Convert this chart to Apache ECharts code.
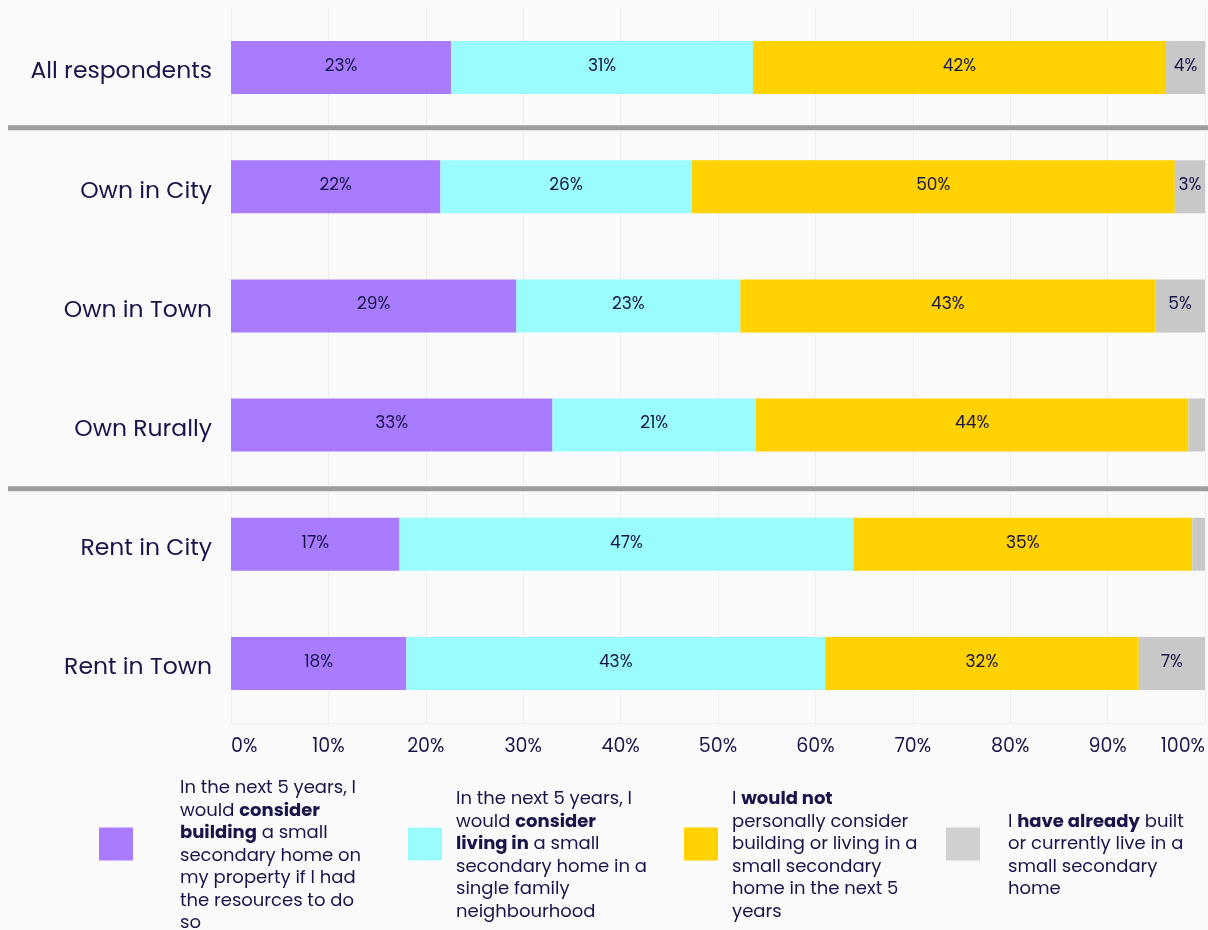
<!DOCTYPE html>
<html>
<head>
<meta charset="utf-8">
<style>
  html, body { margin: 0; padding: 0; background: #fafafa; }
  #chart { width: 1208px; height: 930px; }
</style>
<script src="https://cdn.jsdelivr.net/npm/echarts@6/dist/echarts.min.js"></script>
</head>
<body>
<div id="chart"></div>
<script>
// Respondent groups, top to bottom
const categories = ['All respondents', 'Own in City', 'Own in Town', 'Own Rurally', 'Rent in City', 'Rent in Town'];

// Share of each group (%) per answer
const considerBuilding = [22.6, 21.5, 29.3, 33.0, 17.3, 18.0];
const considerLiving   = [31.0, 25.8, 23.0, 20.9, 46.6, 43.0];
const wouldNot         = [42.4, 49.6, 42.6, 44.4, 34.8, 32.2];
const alreadyHave      = [4.0, 3.1, 5.1, 1.7, 1.3, 6.8];

const xTicks = [0, 10, 20, 30, 40, 50, 60, 70, 80, 90, 100];

const seriesNames = ['considerBuilding', 'considerLiving', 'wouldNot', 'alreadyHave'];
const legendTexts = {
  considerBuilding: 'In the next 5 years, I\nwould {b|consider}\n{b|building} a small\nsecondary home on\nmy property if I had\nthe resources to do\nso',
  considerLiving: 'In the next 5 years, I\nwould {b|consider}\n{b|living in} a small\nsecondary home in a\nsingle family\nneighbourhood',
  wouldNot: 'I {b|would not}\npersonally consider\nbuilding or living in a\nsmall secondary\nhome in the next 5\nyears',
  alreadyHave: 'I {b|have already} built\nor currently live in a\nsmall secondary\nhome'
};

const colors = ['#a97bff', '#9bfcfd', '#ffd200', '#c8c8c8'];
const legendColors = ['#a97bff', '#9bfcfd', '#ffd200', '#d0d0d0'];
const legendLeft = [99, 408, 684, 946];
const legendTextLeft = [180, 456, 732, 1008];

const FONT = "Poppins, 'Open Sans', 'Noto Sans', sans-serif";
const INK = '#17154a';
const LINE_H = 22.5;
const ICON_W = 34, ICON_H = 33, ICON_CENTER = 844;

const chart = echarts.init(document.getElementById('chart'));

const values = [considerBuilding, considerLiving, wouldNot, alreadyHave];

const series = seriesNames.map((name, i) => ({
  name: name,
  type: 'bar',
  stack: 'total',
  barWidth: 53,
  itemStyle: { color: colors[i] },
  emphasis: { disabled: true },
  label: {
    show: true,
    position: 'inside',
    color: INK,
    fontFamily: FONT,
    fontSize: 17,
    offset: [0, -1],
    formatter: p => (p.value >= 3 ? Math.round(p.value) + '%' : '')
  },
  data: values[i]
}));

const legends = seriesNames.map((name, i) => {
  const lines = legendTexts[name].split('\n').length;
  const padTop = 24;
  const boxH = Math.max(ICON_H, lines * LINE_H + padTop);
  return {
    data: [{ name: name, itemStyle: { color: legendColors[i] } }],
    left: legendLeft[i],
    top: ICON_CENTER - boxH / 2,
    padding: 0,
    icon: 'rect',
    itemWidth: ICON_W,
    itemHeight: ICON_H,
    selectedMode: false,
    formatter: () => legendTexts[name],
    textStyle: {
      color: INK,
      fontFamily: FONT,
      fontSize: 18,
      lineHeight: LINE_H,
      padding: [padTop, 0, 0, legendTextLeft[i] - legendLeft[i] - ICON_W - 5],
      rich: {
        b: { fontWeight: 'bold', fontSize: 18, lineHeight: LINE_H, color: INK, fontFamily: FONT }
      }
    }
  };
});

chart.setOption({
  backgroundColor: '#fafafa',
  animation: false,
  grid: { left: 231, right: 0, top: 8, bottom: 207, containLabel: false },
  legend: legends,
  xAxis: {
    type: 'value',
    min: xTicks[0],
    max: xTicks[xTicks.length - 1],
    interval: xTicks[1] - xTicks[0],
    axisLine: { show: true, lineStyle: { color: '#eeeeee' } },
    axisTick: { show: false },
    splitLine: { show: true, lineStyle: { color: '#eeeeee', width: 1 } },
    axisLabel: {
      formatter: '{value}%',
      color: INK,
      fontFamily: FONT,
      fontSize: 19,
      margin: 15,
      alignMinLabel: 'left',
      alignMaxLabel: 'right'
    }
  },
  yAxis: {
    type: 'category',
    data: categories,
    inverse: true,
    axisLine: { show: false },
    axisTick: { show: false },
    splitLine: { show: false },
    axisLabel: {
      margin: 19,
      formatter: v => '{c|' + v + '}',
      rich: {
        c: { color: INK, fontFamily: FONT, fontSize: 23.5, padding: [10, 0, 0, 0] }
      }
    }
  },
  series: series
});

// Thick rules separating "All respondents", owners and renters
const sepAfter = ['All respondents', 'Own Rurally'];
const sepShift = [0.5, 4];
const graphics = sepAfter.map((cat, k) => {
  const idx = categories.indexOf(cat);
  const y0 = chart.convertToPixel({ yAxisIndex: 0 }, categories[idx]);
  const y1 = chart.convertToPixel({ yAxisIndex: 0 }, categories[idx + 1]);
  const y = (y0 + y1) / 2 + sepShift[k];
  return {
    type: 'line',
    shape: { x1: 8, y1: y, x2: 1208, y2: y },
    style: { stroke: '#9e9e9e', lineWidth: 5 },
    z: 10
  };
});
chart.setOption({ graphic: graphics });
</script>
</body>
</html>
